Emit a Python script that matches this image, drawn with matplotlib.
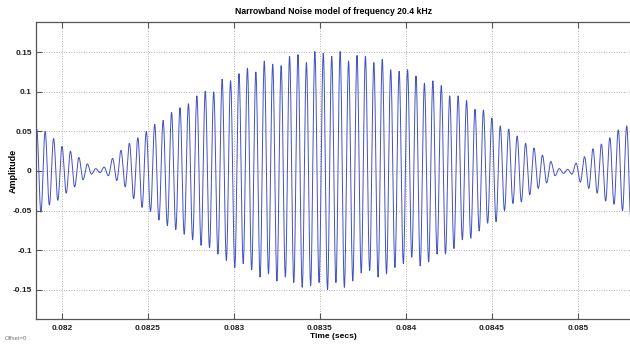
import numpy as np
import matplotlib
matplotlib.use("Agg")
import matplotlib.pyplot as plt

# Narrowband noise: one positive and one negative extremum per carrier cycle
carrier_hz = 20400.0
t_first_peak = 0.0818525  # time of the first positive peak (s)

peak_vals = [
    0.053, 0.050, 0.041, 0.031, 0.025, 0.017, 0.009, 0.003, 0.005, 0.016,
    0.026, 0.035, 0.042, 0.050, 0.059, 0.064, 0.074, 0.080, 0.085, 0.095,
    0.101, 0.100, 0.116, 0.114, 0.123, 0.130, 0.125, 0.139, 0.135, 0.133,
    0.145, 0.147, 0.137, 0.151, 0.149, 0.145, 0.151, 0.139, 0.146, 0.145,
    0.137, 0.141, 0.128, 0.126, 0.128, 0.120, 0.111, 0.114, 0.108, 0.095,
    0.095, 0.089, 0.078, 0.077, 0.067, 0.057, 0.053, 0.044, 0.035, 0.029,
    0.020, 0.012, 0.003, 0.002, 0.010, 0.018, 0.028, 0.034, 0.042, 0.052,
    0.057,
]
trough_vals = [
    -0.052, -0.043, -0.037, -0.028, -0.020, -0.011, -0.004, -0.002, -0.006, -0.012,
    -0.020, -0.035, -0.046, -0.051, -0.062, -0.069, -0.074, -0.080, -0.087, -0.094,
    -0.097, -0.105, -0.113, -0.122, -0.117, -0.125, -0.134, -0.130, -0.139, -0.134,
    -0.141, -0.147, -0.145, -0.141, -0.150, -0.141, -0.147, -0.139, -0.129, -0.126,
    -0.134, -0.130, -0.122, -0.117, -0.109, -0.120, -0.115, -0.105, -0.105, -0.098,
    -0.087, -0.085, -0.076, -0.066, -0.064, -0.050, -0.041, -0.039, -0.030, -0.022,
    -0.015, -0.006, -0.003, -0.004, -0.014, -0.022, -0.028, -0.038, -0.042, -0.050,
    -0.062,
]

x_ticks = [0.082, 0.0825, 0.083, 0.0835, 0.084, 0.0845, 0.085]
x_tick_labels = ["0.082", "0.0825", "0.083", "0.0835", "0.084", "0.0845", "0.085"]
y_ticks = [-0.15, -0.1, -0.05, 0, 0.05, 0.1, 0.15]
y_tick_labels = ["-0.15", "-0.1", "-0.05", "0", "0.05", "0.1", "0.15"]
x_range = (0.0818483, 0.0853104)
y_range = (-0.1875, 0.188)

# Build the waveform: each half cycle of the carrier is a cosine arc
# joining consecutive extrema.
extrema = np.ravel(np.column_stack([peak_vals, trough_vals]))
half_period = 0.5 / carrier_hz
n_sub = 24
t_parts, y_parts = [], []
for i in range(len(extrema) - 1):
    a, b = extrema[i], extrema[i + 1]
    ph = np.linspace(0, np.pi, n_sub, endpoint=False)
    t_parts.append(t_first_peak + (i + ph / np.pi) * half_period)
    y_parts.append((a + b) / 2 + (a - b) / 2 * np.cos(ph))
t_parts.append([t_first_peak + (len(extrema) - 1) * half_period])
y_parts.append([extrema[-1]])
t = np.concatenate(t_parts)
y = np.concatenate(y_parts)

narrow = ["Liberation Sans Narrow", "Liberation Sans", "DejaVu Sans"]
plain = ["Liberation Sans", "DejaVu Sans"]

fig = plt.figure(figsize=(6.30, 3.47), dpi=100)
ax = fig.add_axes([36 / 630, 1 - 319.3 / 347, 1 - 36 / 630 + 0.002, (319.3 - 22.3) / 347])
ax.plot(t, y, color="#4350c6", lw=0.7)

ax.set_xlim(*x_range)
ax.set_ylim(*y_range)
ax.set_xticks(x_ticks)
ax.set_xticklabels(x_tick_labels, fontfamily=narrow, fontweight="bold", fontsize=6)
ax.set_yticks(y_ticks)
ax.set_yticklabels(y_tick_labels, fontfamily=narrow, fontweight="bold", fontsize=6)
ax.tick_params(direction="in", length=4, width=0.8, color="#555555", top=True,
               right=False, labelcolor="#222222")
ax.tick_params(axis="y", pad=3)
ax.tick_params(axis="x", pad=4)
ax.grid(True, color="#999999", linestyle=(0, (1, 2)), linewidth=0.6)
for side in ("left", "bottom", "top"):
    ax.spines[side].set_color("#555555")
    ax.spines[side].set_linewidth(0.9)
ax.spines["right"].set_visible(False)

ax.set_title("Narrowband Noise model of frequency 20.4 kHz", fontfamily=plain,
             fontweight="bold", fontsize=6.2, pad=6)
ax.set_xlabel("Time (secs)", fontfamily=plain, fontweight="bold", fontsize=6, labelpad=1)
fig.text(13.3 / 630, 1 - 171 / 347, "Amplitude", fontfamily=plain, fontweight="bold",
         fontsize=6.5, rotation=90, ha="center", va="center")
fig.text(5 / 630, 1 - 339 / 347, "Offset=0", fontfamily=plain, fontsize=4.2,
         color="#777777", va="center")

fig.savefig("out.png", dpi=100)
